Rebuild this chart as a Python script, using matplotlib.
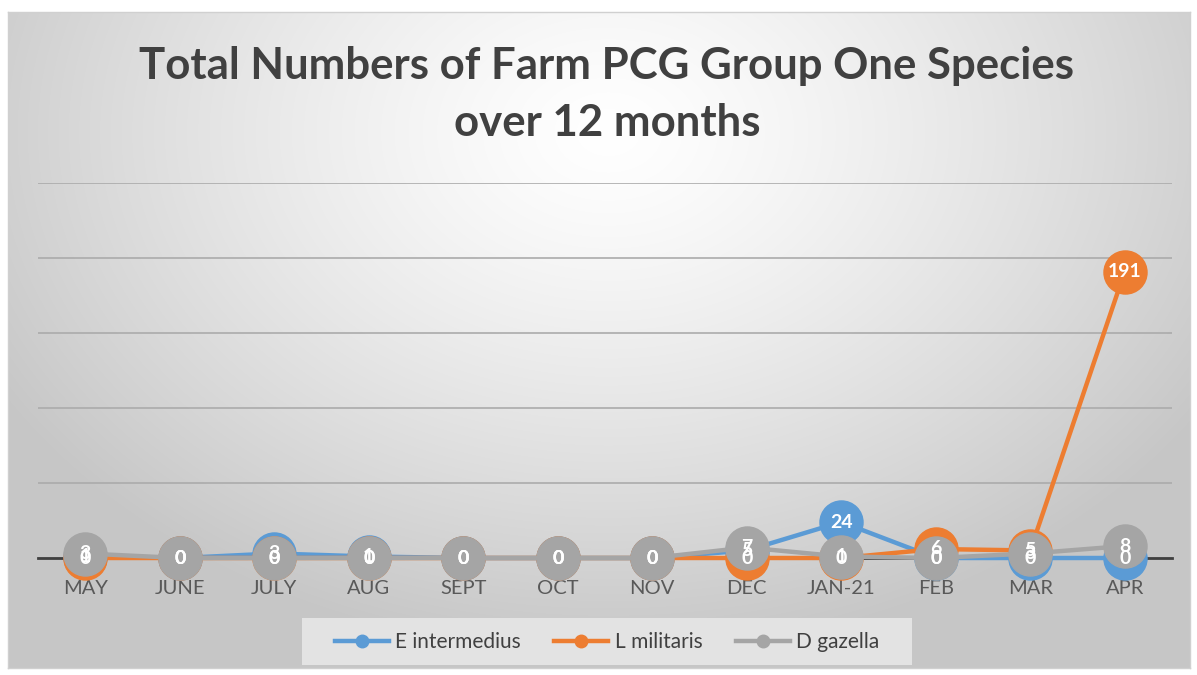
import numpy as np
import matplotlib
matplotlib.use("Agg")
from matplotlib import pyplot as plt
from matplotlib.patches import Rectangle

plt.rcParams['font.family'] = ['Lato', 'DejaVu Sans']

months = ['MAY', 'JUNE', 'JULY', 'AUG', 'SEPT', 'OCT', 'NOV', 'DEC', 'JAN-21', 'FEB', 'MAR', 'APR']
e_intermedius = [1, 0, 3, 1, 0, 0, 0, 5, 24, 0, 0, 0]
l_militaris = [0, 0, 0, 0, 0, 0, 0, 0, 0, 6, 5, 191]
d_gazella = [3, 0, 0, 0, 0, 0, 0, 7, 1, 0, 3, 8]

series = [
    ('E intermedius', e_intermedius, '#5B9BD5'),
    ('L militaris', l_militaris, '#ED7D31'),
    ('D gazella', d_gazella, '#A5A5A5'),
]

W, H = 1197, 675
fig = plt.figure(figsize=(W / 100, H / 100), dpi=100)
fig.patch.set_facecolor('white')

# chart area background with radial gradient
bg = fig.add_axes([8 / W, 1 - 668 / H, (1190 - 8) / W, (668 - 12) / H], zorder=-10)
yy, xx = np.mgrid[0:656, 0:1182]
r = np.sqrt(((xx - 600) / 700.0) ** 2 + ((yy - 120) / 520.0) ** 2)
r = np.clip(r, 0, 1)
shade = 1.0 - 0.22 * r ** 1.3
bg.imshow(np.dstack([shade, shade, shade]), aspect='auto', extent=[0, 1, 0, 1], origin='upper')
bg.set_xlim(0, 1)
bg.set_ylim(0, 1)
bg.set_xticks([])
bg.set_yticks([])
for s in bg.spines.values():
    s.set_color('#d0d0d0')
    s.set_linewidth(1)

ax = fig.add_axes([38 / W, (H - 558) / H, 1134 / W, (558 - 183) / H])
ax.set_facecolor('none')
x = np.arange(len(months))

for name, vals, col in series:
    ax.plot(x, vals, color=col, lw=3.2, marker='o', markersize=31,
            markerfacecolor=col, markeredgecolor=col, clip_on=False, zorder=3, label=name)

for name, vals, col in series:
    for xi, v in zip(x, vals):
        ax.text(xi, v, str(v), ha='center', va='center', color='white',
                fontsize=14, fontweight='bold', zorder=10, clip_on=False)

ax.set_xlim(-0.5, len(months) - 0.5)
ax.set_ylim(0, 250)
ax.set_yticks(np.arange(0, 251, 50))
ax.set_yticklabels([])
ax.tick_params(axis='y', length=0)
ax.tick_params(axis='x', length=0, pad=16, labelsize=14.5, labelcolor='#595959')
ax.set_xticks(x)
ax.set_xticklabels(months)
ax.grid(axis='y', color='#ababab', lw=1.2)
ax.set_axisbelow(True)
for s in ['top', 'right', 'left']:
    ax.spines[s].set_visible(False)
ax.spines['bottom'].set_color('#404040')
ax.spines['bottom'].set_linewidth(2)
ax.spines['bottom'].set_zorder(2)

fig.text(0.507, 1 - 66 / H, 'Total Numbers of Farm PCG Group One Species', ha='center', va='center',
         fontsize=31.5, fontweight='bold', color='#404040')
fig.text(0.507, 1 - 123 / H, 'over 12 months', ha='center', va='center',
         fontsize=31.5, fontweight='bold', color='#404040')

# legend
fig.patches.append(Rectangle((302 / W, 1 - 665 / H), (912 - 302) / W, 47 / H,
                             transform=fig.transFigure, facecolor='#e3e3e3', edgecolor='none', zorder=1))
handles = [plt.Line2D([], [], color=c, lw=3.2, marker='o', markersize=9) for _, _, c in series]
leg = fig.legend(handles, [n for n, _, _ in series], loc='center', bbox_to_anchor=(607 / W, 1 - 642 / H),
                 ncol=3, frameon=False, fontsize=15, handlelength=2.6, columnspacing=1.6,
                 handletextpad=0.3)
for t in leg.get_texts():
    t.set_color('#404040')

fig.savefig('out.png', dpi=100)
